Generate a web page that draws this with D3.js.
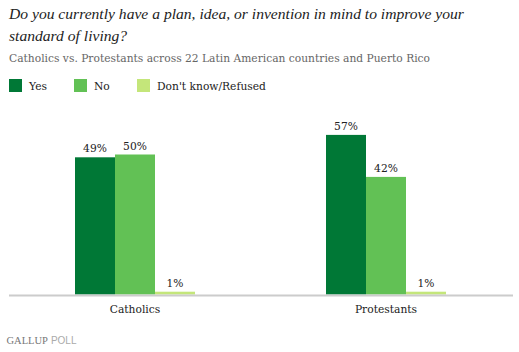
<!DOCTYPE html>
<html>
<head>
<meta charset="utf-8">
<script src="https://cdn.jsdelivr.net/npm/d3@7/dist/d3.min.js"></script>
<style>
  body { margin: 0; background: #fff; }
</style>
</head>
<body>
<svg id="chart" width="519" height="352"></svg>
<script>
const groups = ["Catholics", "Protestants"]
const answers = ["Yes", "No", "Don't know/Refused"]
const yes_values = [49, 57]
const no_values = [50, 42]
const dk_values = [1, 1]
const colors = ["#007836", "#62c155", "#c4e67a"]

const title_lines = [
  "Do you currently have a plan, idea, or invention in mind to improve your",
  "standard of living?",
]
const subtitle = "Catholics vs. Protestants across 22 Latin American countries and Puerto Rico"

const serif = "DejaVu Serif, serif"

const data = []
groups.forEach((g, i) => {
  data.push({ group: g, answer: answers[0], value: yes_values[i] })
  data.push({ group: g, answer: answers[1], value: no_values[i] })
  data.push({ group: g, answer: answers[2], value: dk_values[i] })
})

const svg = d3.select("#chart")
const baseline = 294.5

const x0 = d3.scaleBand().domain(groups).range([9.5, 511.5])
const x1 = d3.scaleBand().domain(answers).range([-60, 60])
const y = d3.scaleLinear().domain([0, 100]).range([baseline, baseline - 280])
const color = d3.scaleOrdinal().domain(answers).range(colors)

// title
svg.selectAll(".title")
  .data(title_lines)
  .join("text")
  .attr("class", "title")
  .attr("x", 9)
  .attr("y", (d, i) => 19 + i * 22)
  .attr("font-family", "Liberation Serif, serif")
  .attr("font-size", 15.6)
  .attr("font-style", "italic")
  .attr("fill", "#222")
  .text((d) => d)

svg.append("text")
  .attr("x", 9)
  .attr("y", 62)
  .attr("font-family", serif)
  .attr("font-size", 10.7)
  .attr("fill", "#666")
  .text(subtitle)

// legend
const legend_x = [9, 74, 137]
const legend = svg.selectAll(".legend_item")
  .data(answers)
  .join("g")
  .attr("class", "legend_item")
  .attr("transform", (d, i) => `translate(${legend_x[i]},79)`)
legend.append("rect")
  .attr("width", 13)
  .attr("height", 13)
  .attr("fill", (d) => color(d))
legend.append("text")
  .attr("x", 20)
  .attr("y", 11)
  .attr("font-family", serif)
  .attr("font-size", 10.7)
  .attr("fill", "#222")
  .text((d) => d)

// bars
svg.selectAll(".bar")
  .data(data)
  .join("rect")
  .attr("class", "bar")
  .attr("x", (d) => x0(d.group) + x0.bandwidth() / 2 + x1(d.answer))
  .attr("width", x1.bandwidth())
  .attr("y", (d) => y(d.value))
  .attr("height", (d) => baseline - y(d.value))
  .attr("fill", (d) => color(d.answer))

svg.selectAll(".val")
  .data(data)
  .join("text")
  .attr("class", "val")
  .attr("x", (d) => x0(d.group) + x0.bandwidth() / 2 + x1(d.answer) + x1.bandwidth() / 2)
  .attr("y", (d) => y(d.value) - 5)
  .attr("text-anchor", "middle")
  .attr("font-family", serif)
  .attr("font-size", 10.7)
  .attr("fill", "#222")
  .text((d) => d.value + "%")

// baseline
svg.append("line")
  .attr("x1", 9)
  .attr("x2", 513)
  .attr("y1", baseline + 1)
  .attr("y2", baseline + 1)
  .attr("stroke", "#ccc")
  .attr("stroke-width", 2)

const x_axis = d3.axisBottom(x0).tickSize(0).tickPadding(9)
const g_axis = svg.append("g")
  .attr("transform", `translate(0,${baseline + 2})`)
  .call(x_axis)
g_axis.select(".domain").remove()
g_axis.selectAll("text")
  .attr("font-family", serif)
  .attr("font-size", 10.7)
  .attr("fill", "#222")

// logo
const logo = svg.append("text").attr("x", 6.5).attr("y", 344)
logo.append("tspan")
  .attr("font-family", "Liberation Serif, serif")
  .attr("font-size", 10.5)
  .attr("fill", "#777")
  .text("GALLUP")
logo.append("tspan")
  .attr("dx", 3)
  .attr("font-size", 10)
  .attr("font-family", "Liberation Sans, sans-serif")
  .attr("fill", "#aaa")
  .text("POLL")
</script>
</body>
</html>
